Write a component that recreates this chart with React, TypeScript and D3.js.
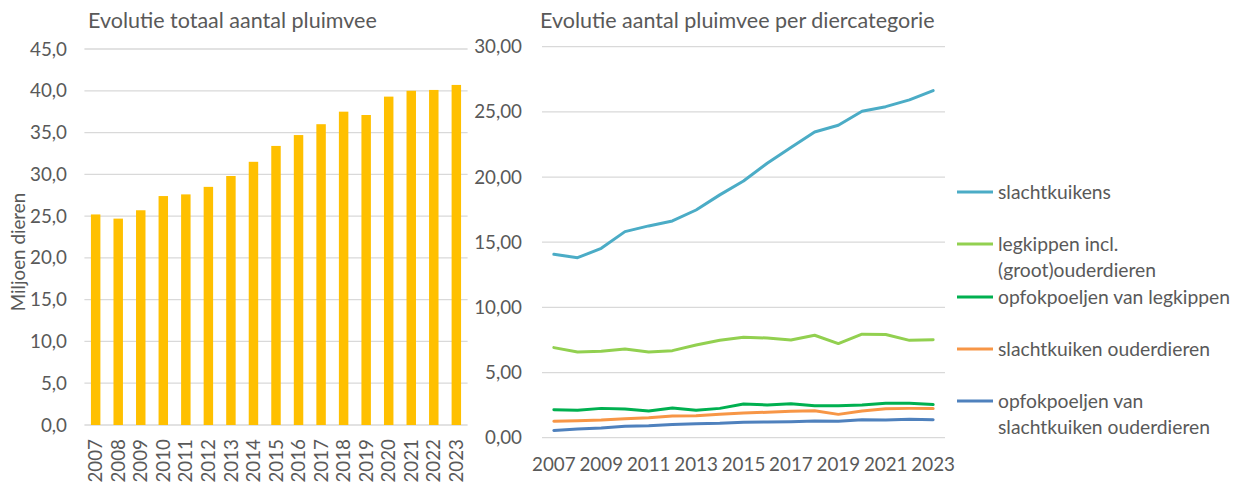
import React from 'react'
import * as d3 from 'd3'

const years = ['2007', '2008', '2009', '2010', '2011', '2012', '2013', '2014', '2015', '2016', '2017', '2018', '2019', '2020', '2021', '2022', '2023']

// totaal aantal pluimvee (miljoen dieren)
const totaal = [25.2, 24.7, 25.7, 27.4, 27.6, 28.5, 29.8, 31.5, 33.4, 34.7, 36.0, 37.5, 37.1, 39.3, 40.0, 40.1, 40.7]

const slachtkuikens = [14.07, 13.81, 14.53, 15.81, 16.25, 16.63, 17.47, 18.63, 19.7, 21.06, 22.26, 23.46, 23.97, 25.05, 25.4, 25.92, 26.63]
const legkippen = [6.91, 6.58, 6.63, 6.81, 6.58, 6.68, 7.11, 7.47, 7.7, 7.65, 7.5, 7.86, 7.22, 7.94, 7.92, 7.47, 7.52]
const opfokLegkippen = [2.15, 2.1, 2.25, 2.2, 2.05, 2.28, 2.1, 2.25, 2.59, 2.51, 2.61, 2.46, 2.46, 2.51, 2.64, 2.64, 2.54]
const slachtkuikenOuder = [1.26, 1.31, 1.36, 1.46, 1.54, 1.67, 1.69, 1.79, 1.9, 1.95, 2.03, 2.07, 1.79, 2.05, 2.23, 2.25, 2.25]
const opfokSlachtkuikenOuder = [0.56, 0.67, 0.74, 0.87, 0.92, 1.02, 1.07, 1.1, 1.18, 1.2, 1.23, 1.28, 1.26, 1.38, 1.36, 1.41, 1.38]

const leftTicks = [0, 5, 10, 15, 20, 25, 30, 35, 40, 45]
const rightTicks = [0, 5, 10, 15, 20, 25, 30]

const series = [
  { name: ['slachtkuikens'], values: slachtkuikens, color: '#4bacc6' },
  { name: ['legkippen incl.', '(groot)ouderdieren'], values: legkippen, color: '#92d050' },
  { name: ['opfokpoeljen van legkippen'], values: opfokLegkippen, color: '#00b050' },
  { name: ['slachtkuiken ouderdieren'], values: slachtkuikenOuder, color: '#f79646' },
  { name: ['opfokpoeljen van', 'slachtkuiken ouderdieren'], values: opfokSlachtkuikenOuder, color: '#4f81bd' }
]

const legendY = [192, 244, 297, 349, 401]

const FONT = 'Lato, "Open Sans", sans-serif'
const TEXT = '#595959'
const GRID = '#d9d9d9'

export default function App() {
  // left: bar chart
  const xb = d3.scaleBand().domain(years).range([84.4, 467.6]).paddingInner(0.58).paddingOuter(0.29)
  const yb = d3.scaleLinear().domain([0, 45]).range([425, 49])

  // right: line chart
  const xl = d3.scaleBand().domain(years).range([542, 945])
  const yl = d3.scaleLinear().domain([0, 30]).range([437.7, 46.7])
  const lx = (i: number) => (xl(years[i]) as number) + xl.bandwidth() / 2
  const line = d3
    .line<number>()
    .x((d, i) => lx(i))
    .y(d => yl(d))

  const fmt1 = (v: number) => v.toFixed(1).replace('.', ',')
  const fmt2 = (v: number) => v.toFixed(2).replace('.', ',')

  return (
    <svg width={1235} height={482} style={{ position: 'absolute', left: 0, top: 0, fontFamily: FONT }}>
      <rect width={1235} height={482} fill="#fff" />

      {/* left chart */}
      <text x={88} y={28} fontSize={21.5} fill={TEXT}>Evolutie totaal aantal pluimvee</text>
      {leftTicks.map(t => (
        <g key={'lt' + t}>
          <line x1={84.4} x2={467.6} y1={yb(t)} y2={yb(t)} stroke={GRID} strokeWidth={1.3} />
          <text x={67} y={yb(t)} dy="0.35em" textAnchor="end" fontSize={18.8} fill={TEXT}>{fmt1(t)}</text>
        </g>
      ))}
      {years.map((yr, i) => (
        <rect key={'b' + yr} x={xb(yr)} y={yb(totaal[i])} width={xb.bandwidth()} height={yb(0) - yb(totaal[i])} fill="#ffc000" />
      ))}
      {years.map(yr => {
        const cx = (xb(yr) as number) + xb.bandwidth() / 2
        return (
          <text key={'xl' + yr} transform={`translate(${cx},439) rotate(-90)`} dy="0.35em" textAnchor="end" fontSize={18.8} fill={TEXT}>{yr}</text>
        )
      })}
      <text transform="translate(18,252) rotate(-90)" dy="0.35em" textAnchor="middle" fontSize={18.8} fill={TEXT}>Miljoen dieren</text>

      {/* right chart */}
      <text x={540} y={28} fontSize={21.5} fill={TEXT}>Evolutie aantal pluimvee per diercategorie</text>
      {rightTicks.map(t => (
        <g key={'rt' + t}>
          <line x1={542} x2={945} y1={yl(t)} y2={yl(t)} stroke={GRID} strokeWidth={1.3} />
          <text x={522} y={yl(t)} dy="0.35em" textAnchor="end" fontSize={18.8} fill={TEXT}>{fmt2(t)}</text>
        </g>
      ))}
      {years.map((yr, i) => (i % 2 === 0 ? (
        <text key={'rx' + yr} x={lx(i)} y={471} textAnchor="middle" fontSize={18.8} fill={TEXT}>{yr}</text>
      ) : null))}
      {series.map(s => (
        <path key={s.name[0]} d={line(s.values) || ''} fill="none" stroke={s.color} strokeWidth={3} strokeLinejoin="round" strokeLinecap="round" />
      ))}

      {/* legend */}
      {series.map((s, i) => (
        <g key={'lg' + i}>
          <line x1={957} x2={993} y1={legendY[i]} y2={legendY[i]} stroke={s.color} strokeWidth={3} />
          {s.name.map((n, j) => (
            <text key={n} x={998} y={legendY[i] + j * 26} dy="0.35em" fontSize={19.3} fill={TEXT}>{n}</text>
          ))}
        </g>
      ))}
    </svg>
  )
}
